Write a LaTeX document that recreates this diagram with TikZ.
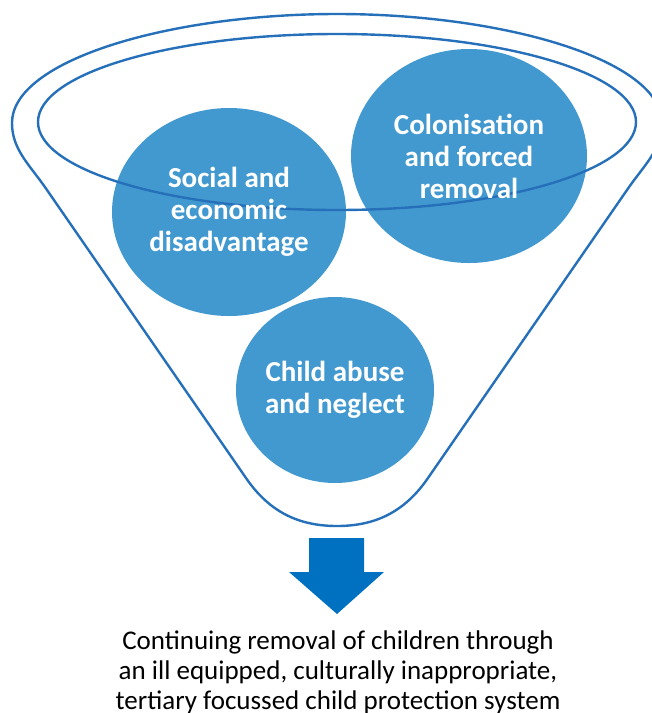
\documentclass[tikz,border=0pt]{standalone}
\usepackage{fontspec}
\setmainfont{Carlito}
\usetikzlibrary{shapes.geometric}
\definecolor{bubble}{RGB}{66,153,208}
\definecolor{rim}{RGB}{38,112,186}
\definecolor{arrowblue}{RGB}{0,112,192}
\begin{document}
\begin{tikzpicture}[x=1pt,y=-1pt,
	cause/.style={ellipse,fill=bubble,inner sep=0pt},
	causetext/.style={text=white,align=center,inner sep=0pt,
		font=\bfseries\fontsize{29}{32}\selectfont},
	rimline/.style={draw=rim,line width=2.4pt}]
	\useasboundingbox (0,0) rectangle (652,713);
	% the three causes
	\node[cause,minimum width=234pt,minimum height=208pt] (social) at (229,212) {};
	\node[cause,minimum width=236pt,minimum height=214pt] (colon) at (469,156) {};
	\node[cause,minimum width=198pt,minimum height=186pt] (abuse) at (335,390) {};
	% funnel
	\draw[rimline] (12,123) .. controls (12,60) and (170,14) .. (337,14)
		.. controls (504,14) and (662,60) .. (662,123)
		.. controls (662,150) and (644,165) .. (627,190)
		-- (428,478) .. controls (404,513) and (374,526) .. (337,526)
		.. controls (300,526) and (270,513) .. (246,478)
		-- (47,190) .. controls (30,165) and (12,150) .. cycle;
	\draw[rimline] (337,122) ellipse [x radius=299, y radius=88];
	% labels over the rim
	\node[causetext] (social-text) at (social.center) {Social and\\economic\\disadvantage};
	\node[causetext] (colon-text) at (colon.center) {Colonisation\\and forced\\removal};
	\node[causetext] (abuse-text) at (abuse.center) {Child abuse\\and neglect};
	% arrow down
	\fill[arrowblue] (309,538) -- (364,538) -- (364,572) -- (384,572)
		-- (337,614) -- (289,572) -- (309,572) -- cycle;
	\node[anchor=north,inner sep=0pt,align=center,font=\fontsize{27}{30}\selectfont] (result) at (338,631)
		{Continuing removal of children through\\an ill equipped, culturally inappropriate,\\tertiary focussed child protection system};
\end{tikzpicture}
\end{document}
